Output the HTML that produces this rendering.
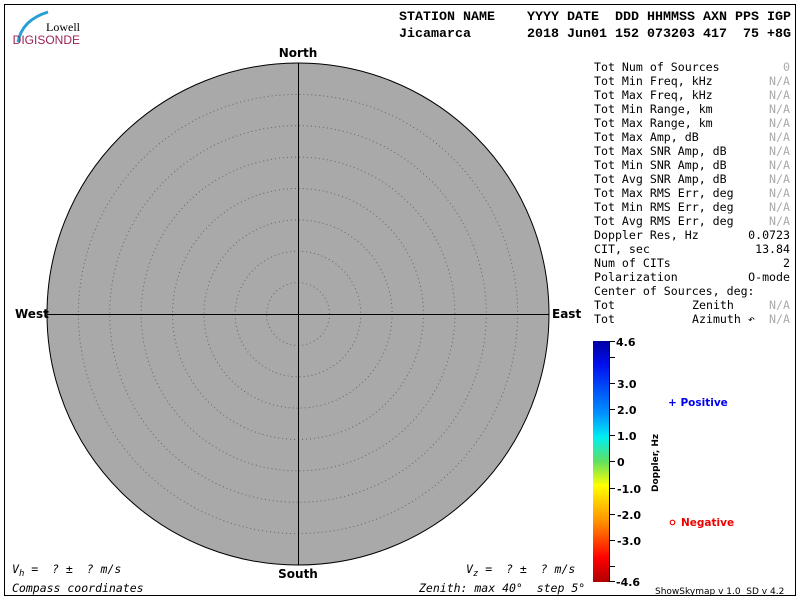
<!DOCTYPE html>
<html><head><style>body{margin:0;background:#fff}svg{display:block}</style></head><body>
<svg width="800" height="600" xmlns="http://www.w3.org/2000/svg">
<defs>
<linearGradient id="cb" x1="0" y1="0" x2="0" y2="1">
<stop offset="0" stop-color="#0000a0"/>
<stop offset="0.1" stop-color="#0010f0"/>
<stop offset="0.3" stop-color="#0090ff"/>
<stop offset="0.4" stop-color="#00f0f0"/>
<stop offset="0.5" stop-color="#60e060"/>
<stop offset="0.6" stop-color="#ffff00"/>
<stop offset="0.75" stop-color="#ff9000"/>
<stop offset="0.9" stop-color="#ff0000"/>
<stop offset="1" stop-color="#b00000"/>
</linearGradient>
</defs>
<rect x="4.5" y="4.5" width="791" height="591" fill="none" stroke="#000"/>
<path d="M18 42 Q22 20 48 12" stroke="#2a9fd6" stroke-width="3" fill="none"/>
<text x="80" y="31" font-family="Liberation Serif,serif" font-size="12" text-anchor="end">Lowell</text>
<text x="80" y="44" font-family="Liberation Sans,sans-serif" font-size="12" fill="#9a2456" text-anchor="end">DIGISONDE</text>
<g font-family="Liberation Mono,monospace" font-size="13" font-weight="bold">
<text x="399" y="20" textLength="392" lengthAdjust="spacingAndGlyphs" xml:space="preserve">STATION NAME    YYYY DATE  DDD HHMMSS AXN PPS IGP</text>
<text x="399" y="37" textLength="392" lengthAdjust="spacingAndGlyphs" xml:space="preserve">Jicamarca       2018 Jun01 152 073203 417  75 +8G</text>
</g>
<circle cx="298" cy="314" r="251" fill="#a9a9a9" stroke="#000"/>
<g fill="none" stroke="#666" stroke-dasharray="1,3">
<circle cx="298" cy="314" r="31.4"/><circle cx="298" cy="314" r="62.8"/><circle cx="298" cy="314" r="94.1"/>
<circle cx="298" cy="314" r="125.5"/><circle cx="298" cy="314" r="156.9"/><circle cx="298" cy="314" r="188.3"/>
<circle cx="298" cy="314" r="219.6"/>
</g>
<line x1="298.5" y1="63" x2="298.5" y2="565" stroke="#000"/>
<line x1="47" y1="314.5" x2="549" y2="314.5" stroke="#000"/>
<g font-family="DejaVu Sans,sans-serif" font-size="12" font-weight="bold">
<text x="298" y="57" text-anchor="middle">North</text>
<text x="298" y="578" text-anchor="middle">South</text>
<text x="15" y="318">West</text>
<text x="552" y="318">East</text>
</g>
<g font-family="DejaVu Sans Mono,monospace" font-size="11.5" font-style="italic">
<text x="12" y="573" xml:space="preserve">V<tspan font-size="9" dy="3">h</tspan><tspan dy="-3"> =  ? ±  ? m/s</tspan></text>
<text x="466" y="573" xml:space="preserve">V<tspan font-size="9" dy="3">z</tspan><tspan dy="-3"> =  ? ±  ? m/s</tspan></text>
<text x="12" y="592">Compass coordinates</text>
<text x="419" y="592" xml:space="preserve">Zenith: max 40°  step 5°</text>
</g>
<g font-family="DejaVu Sans Mono,monospace" font-size="11.6" xml:space="preserve">
<text x="594" y="71">Tot Num of Sources</text><text x="790" y="71" text-anchor="end" fill="#aaa">0</text>
<text x="594" y="85">Tot Min Freq, kHz</text><text x="790" y="85" text-anchor="end" fill="#aaa">N/A</text>
<text x="594" y="99">Tot Max Freq, kHz</text><text x="790" y="99" text-anchor="end" fill="#aaa">N/A</text>
<text x="594" y="113">Tot Min Range, km</text><text x="790" y="113" text-anchor="end" fill="#aaa">N/A</text>
<text x="594" y="127">Tot Max Range, km</text><text x="790" y="127" text-anchor="end" fill="#aaa">N/A</text>
<text x="594" y="141">Tot Max Amp, dB</text><text x="790" y="141" text-anchor="end" fill="#aaa">N/A</text>
<text x="594" y="155">Tot Max SNR Amp, dB</text><text x="790" y="155" text-anchor="end" fill="#aaa">N/A</text>
<text x="594" y="169">Tot Min SNR Amp, dB</text><text x="790" y="169" text-anchor="end" fill="#aaa">N/A</text>
<text x="594" y="183">Tot Avg SNR Amp, dB</text><text x="790" y="183" text-anchor="end" fill="#aaa">N/A</text>
<text x="594" y="197">Tot Max RMS Err, deg</text><text x="790" y="197" text-anchor="end" fill="#aaa">N/A</text>
<text x="594" y="211">Tot Min RMS Err, deg</text><text x="790" y="211" text-anchor="end" fill="#aaa">N/A</text>
<text x="594" y="225">Tot Avg RMS Err, deg</text><text x="790" y="225" text-anchor="end" fill="#aaa">N/A</text>
<text x="594" y="239">Doppler Res, Hz</text><text x="790" y="239" text-anchor="end">0.0723</text>
<text x="594" y="253">CIT, sec</text><text x="790" y="253" text-anchor="end">13.84</text>
<text x="594" y="267">Num of CITs</text><text x="790" y="267" text-anchor="end">2</text>
<text x="594" y="281">Polarization</text><text x="790" y="281" text-anchor="end">O-mode</text>
<text x="594" y="295">Center of Sources, deg:</text>
<text x="594" y="309">Tot</text><text x="692" y="309">Zenith</text><text x="790" y="309" text-anchor="end" fill="#aaa">N/A</text>
<text x="594" y="323">Tot</text><text x="692" y="323">Azimuth ↶</text><text x="790" y="323" text-anchor="end" fill="#aaa">N/A</text>
</g>
<rect x="593" y="341" width="16" height="241" fill="url(#cb)"/>
<line x1="609.5" y1="341" x2="609.5" y2="582" stroke="#000"/>
<g stroke="#000">
<line x1="609" y1="341.5" x2="615" y2="341.5"/><line x1="609" y1="357.5" x2="615" y2="357.5"/>
<line x1="609" y1="383.5" x2="615" y2="383.5"/><line x1="609" y1="409.5" x2="615" y2="409.5"/>
<line x1="609" y1="435.5" x2="615" y2="435.5"/><line x1="609" y1="461.5" x2="615" y2="461.5"/>
<line x1="609" y1="488.5" x2="615" y2="488.5"/><line x1="609" y1="514.5" x2="615" y2="514.5"/>
<line x1="609" y1="540.5" x2="615" y2="540.5"/><line x1="609" y1="566.5" x2="615" y2="566.5"/>
<line x1="609" y1="581.5" x2="615" y2="581.5"/>
</g>
<g font-family="DejaVu Sans,sans-serif" font-size="11" font-weight="bold">
<text x="616" y="346">4.6</text><text x="617" y="388">3.0</text><text x="617" y="414">2.0</text>
<text x="617" y="440">1.0</text><text x="617" y="466">0</text><text x="617" y="493">-1.0</text>
<text x="617" y="519">-2.0</text><text x="617" y="545">-3.0</text><text x="616" y="586">-4.6</text>
<text transform="translate(658,492) rotate(-90)" font-size="9">Doppler, Hz</text>
<text x="668" y="406" fill="#0000ee" font-size="10.5">+ Positive</text>
<text x="681" y="526" fill="#ee0000" font-size="10.5">Negative</text>
</g>
<circle cx="672.5" cy="522.5" r="2.3" fill="none" stroke="#ee0000" stroke-width="1.2"/>
<text x="655" y="594" font-family="DejaVu Sans,sans-serif" font-size="9" xml:space="preserve">ShowSkymap v 1.0  SD v 4.2</text>
</svg>
</body></html>
